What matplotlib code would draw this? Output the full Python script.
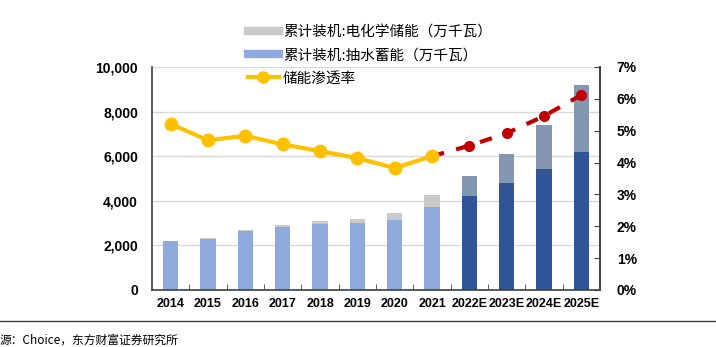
import matplotlib.pyplot as plt
from matplotlib.lines import Line2D
from matplotlib.ticker import FuncFormatter, MultipleLocator

plt.rcParams['font.family'] = ['Noto Sans CJK SC', 'DejaVu Sans']

years = ['2014', '2015', '2016', '2017', '2018', '2019', '2020', '2021',
         '2022E', '2023E', '2024E', '2025E']
pumped = [2180, 2300, 2660, 2840, 2970, 3010, 3150, 3730, 4230, 4810, 5430, 6180]
total = [2200, 2310, 2690, 2900, 3090, 3190, 3450, 4280, 5090, 6100, 7420, 9180]
rate = [5.21, 4.70, 4.84, 4.57, 4.36, 4.14, 3.83, 4.20, 4.53, 4.92, 5.46, 6.12]
n_actual = 8

chem = [t - p for t, p in zip(total, pumped)]

fig = plt.figure(figsize=(7.16, 3.47), dpi=100)
ax = fig.add_axes([0.2123, 0.1643, 0.6257, 0.6427])
x = list(range(len(years)))
w = 0.41

blue = ['#8FAADC'] * n_actual + ['#2F5597'] * (len(years) - n_actual)
grey = ['#C9C9C9'] * n_actual + ['#8497B0'] * (len(years) - n_actual)
ax.bar(x, pumped, w, color=blue, zorder=2)
ax.bar(x, chem, w, bottom=pumped, color=grey, zorder=2)

num_font = ['Liberation Sans', 'DejaVu Sans']

ax.set_xlim(-0.5, len(years) - 0.5)
ax.set_ylim(0, 10000)
ax.yaxis.set_major_locator(MultipleLocator(2000))
ax.yaxis.set_major_formatter(FuncFormatter(lambda v, p: f'{int(v):,}'))
ax.grid(axis='y', color='#D9D9D9', linewidth=1, zorder=0)
ax.set_xticks(x)
ax.set_xticklabels(years)
ax.set_xticks([i + 0.5 for i in x[:-1]], minor=True)
ax.tick_params(axis='x', which='major', length=0, pad=6)
ax.tick_params(axis='x', which='minor', direction='in', length=4, color='#404040')
ax.tick_params(axis='y', length=0, pad=10)
for lab in ax.get_xticklabels():
    lab.set(fontfamily=num_font, fontweight='bold', fontsize=9)
for lab in ax.get_yticklabels():
    lab.set(fontfamily=num_font, fontweight='bold', fontsize=10)
ax.spines['top'].set_visible(False)
for s in ['left', 'bottom', 'right']:
    ax.spines[s].set_color('#404040')
    ax.spines[s].set_linewidth(1.2)

ax2 = ax.twinx()
ax2.set_ylim(0, 7)
ax2.yaxis.set_major_locator(MultipleLocator(1))
ax2.yaxis.set_major_formatter(FuncFormatter(lambda v, p: f'{int(v)}%'))
ax2.tick_params(axis='y', direction='in', length=4, color='#404040', pad=12)
for lab in ax2.get_yticklabels():
    lab.set(fontfamily=num_font, fontweight='bold', fontsize=10)
for s in ['top', 'left', 'bottom']:
    ax2.spines[s].set_visible(False)
ax2.spines['right'].set_color('#404040')
ax2.spines['right'].set_linewidth(1.2)

ax2.plot(x[n_actual - 1:], rate[n_actual - 1:], color='#C00000', linewidth=3,
         dashes=(3, 3), marker='o', markersize=7, markevery=list(range(1, 5)), zorder=3)
ax2.plot(x[:n_actual], rate[:n_actual], color='#FFC000', linewidth=3,
         marker='o', markersize=9, zorder=4)

handles = [Line2D([], [], color='#C9C9C9', linewidth=6),
           Line2D([], [], color='#8FAADC', linewidth=6),
           Line2D([], [], color='#FFC000', linewidth=3, marker='o', markersize=8)]
labels = ['累计装机:电化学储能（万千瓦）', '累计装机:抽水蓄能（万千瓦）', '储能渗透率']
fig.legend(handles, labels, loc='upper left', bbox_to_anchor=(0.328, 0.966),
           frameon=False, fontsize=10.5, handlelength=2.1, handletextpad=0.3,
           labelspacing=0.64)

fig.add_artist(Line2D([0, 1], [1 - 321 / 347, 1 - 321 / 347], color='#404040',
                      linewidth=1, transform=fig.transFigure))
fig.text(0.0, 1 - 340 / 347, '源：Choice，东方财富证券研究所', fontsize=8.5,
         va='center', ha='left')

fig.savefig('out.png', dpi=100)
